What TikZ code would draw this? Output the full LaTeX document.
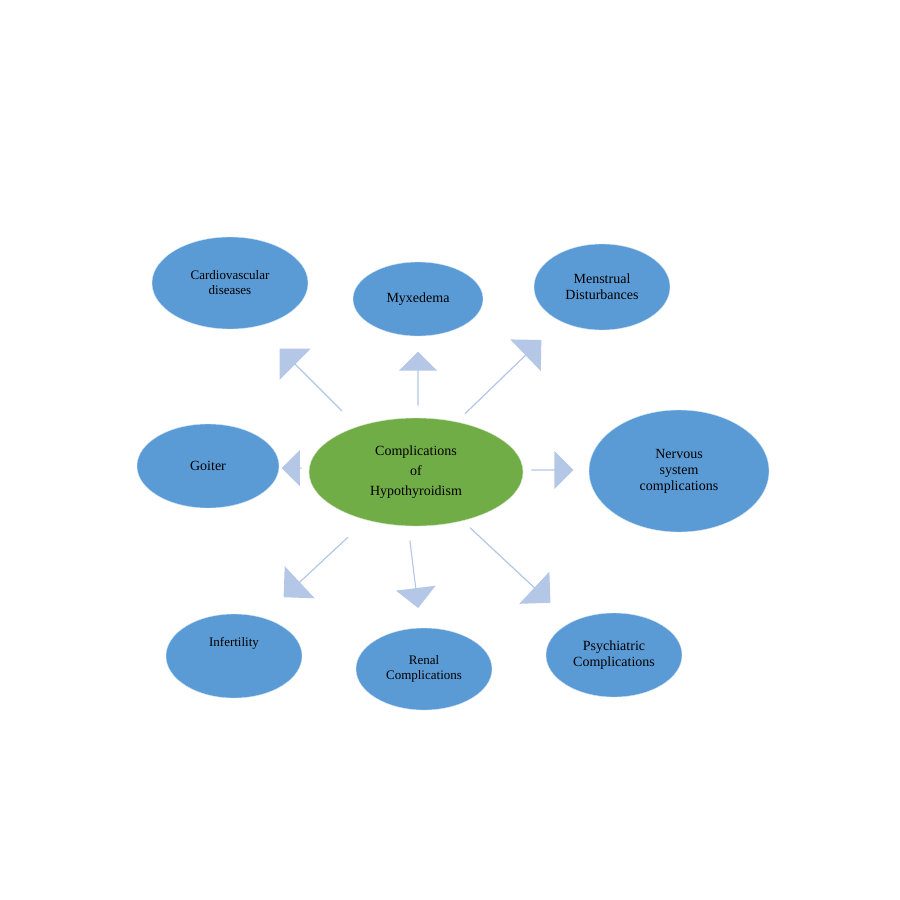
\documentclass[tikz,border=0pt]{standalone}
\usepackage{fontspec}
\setmainfont{Liberation Serif}
\usetikzlibrary{shapes.arrows,shapes.geometric}
\definecolor{hubgreen}{HTML}{70AD47}
\definecolor{leafblue}{HTML}{5B9BD5}
\definecolor{pointer}{HTML}{B4C7E7}
\begin{document}
\begin{tikzpicture}[x=1bp,y=-1bp]
\tikzset{leaf/.style={ellipse,draw=white!70!leafblue,thin,fill=leafblue,align=center,inner sep=0pt,font=\fontsize{14bp}{16bp}\selectfont},
  hub/.style={leaf,fill=hubgreen,draw=white!70!hubgreen},
  pointer/.style={single arrow,fill=pointer,draw=none,inner sep=0pt,single arrow head extend=7bp,single arrow head indent=0pt}}
\useasboundingbox (0,0) rectangle (900,900);
  \node (hyp) at (416,472) [hub,minimum width=214bp,minimum height=108bp] {Complications\\[4bp] of\\[4bp] Hypothyroidism};
  \node (cardio) at (230,283) [leaf,minimum width=156bp,minimum height=92bp,font=\fontsize{13bp}{15bp}\selectfont] {Cardiovascular\\diseases};
  \node (myx) at (418,299) [leaf,minimum width=130bp,minimum height=74bp] {Myxedema};
  \node (mens) at (602,287) [leaf,minimum width=136bp,minimum height=86bp] {Menstrual\\Disturbances};
  \node (goiter) at (208,466) [leaf,minimum width=142bp,minimum height=84bp] {Goiter};
  \node (nerv) at (679,471) [leaf,minimum width=180bp,minimum height=122bp] {Nervous\\system\\complications};
  \node (infert) at (234,656) [leaf,minimum width=136bp,minimum height=84bp,font=\fontsize{13bp}{15bp}\selectfont] {Infertility\\[14bp]};
  \node (renal) at (424,669) [leaf,minimum width=136bp,minimum height=82bp,font=\fontsize{13bp}{15bp}\selectfont] {Renal\\Complications};
  \node (psych) at (614,655) [leaf,minimum width=136bp,minimum height=84bp] {Psychiatric\\Complications};

  % block arrows from the hub
  \node (a1) at (311,380) [pointer,rotate=135,minimum height=88bp,minimum width=44bp] {};
  \node (a2) at (418,379) [pointer,rotate=90,minimum height=54bp,minimum width=38bp] {};
  \node (a3) at (503,377) [pointer,rotate=44,minimum height=106bp,minimum width=44bp] {};
  \node (a4) at (292,468) [pointer,rotate=180,minimum height=20bp,minimum width=36bp] {};
  \node (a5) at (552,470) [pointer,minimum height=42bp,minimum width=38bp] {};
  \node (a6) at (316,567) [pointer,rotate=-137,minimum height=88bp,minimum width=44bp] {};
  \node (a7) at (414,574) [pointer,rotate=-83,minimum height=68bp,minimum width=40bp] {};
  \node (a8) at (510,565) [pointer,rotate=-43,minimum height=110bp,minimum width=44bp] {};
\end{tikzpicture}
\end{document}
